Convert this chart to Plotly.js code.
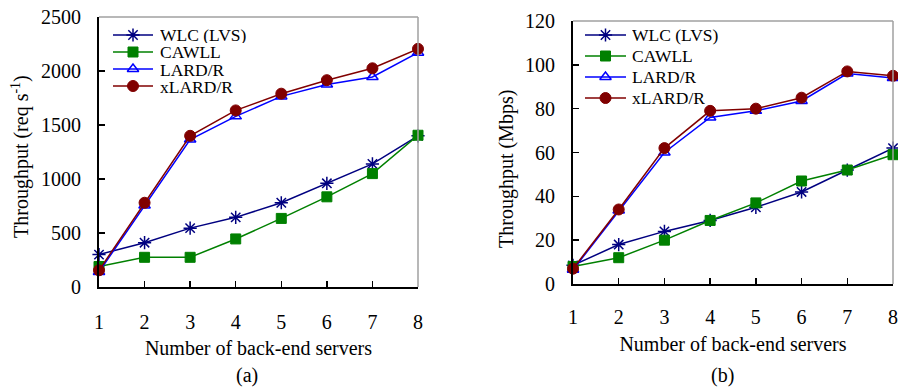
<!DOCTYPE html>
<html>
<head>
<meta charset="utf-8">
<script src="https://cdn.plot.ly/plotly-3.0.1.min.js"></script>
<style>html,body{margin:0;padding:0;background:#fff;}#chart{width:898px;height:387px;}</style>
</head>
<body>
<div id="chart"></div>
<script>
// ---- data ----
var servers = [1, 2, 3, 4, 5, 6, 7, 8];
var seriesNames = ["WLC (LVS)", "CAWLL", "LARD/R", "xLARD/R"];
var reqWLC   = [300, 410, 545, 645, 780, 960, 1140, 1400];
var reqCAWLL = [190, 275, 275, 445, 635, 835, 1050, 1405];
var reqLARD  = [140, 755, 1365, 1580, 1765, 1875, 1945, 2170];
var reqXLARD = [155, 780, 1400, 1635, 1790, 1915, 2025, 2205];
var mbpsWLC   = [8.5, 18, 24, 29, 35, 42, 52, 62];
var mbpsCAWLL = [8, 12, 20, 29, 37, 47, 52, 59];
var mbpsLARD  = [6.5, 33.5, 60, 76, 79, 83.5, 96, 94];
var mbpsXLARD = [7, 34, 62, 79, 80, 85, 97, 95];
var yTicksA = [0, 500, 1000, 1500, 2000, 2500];
var yTicksB = [0, 20, 40, 60, 80, 100, 120];

// ---- styles ----
var W = 898, H = 387;
var FONT = "Liberation Serif, Times New Roman, serif";
var styles = [
  {color: "#000080", marker: {symbol: "asterisk-open", size: 11, color: "#000080", line: {color: "#000080", width: 1.5}}},
  {color: "#008000", marker: {symbol: "square", size: 10, color: "#008000", line: {color: "#008000", width: 1}}},
  {color: "#0000ff", marker: {symbol: "triangle-up-open", size: 10, color: "#0000ff", line: {color: "#0000ff", width: 1.5}}},
  {color: "#800000", marker: {symbol: "circle", size: 11, color: "#800000", line: {color: "#800000", width: 1}}}
];
function px(x) { return x / W; }
function py(y) { return 1 - y / H; }

var traces = [];
function addSeries(vals, i, xa, ya) {
  traces.push({
    x: servers, y: vals, type: "scatter", mode: "lines+markers",
    name: seriesNames[i], xaxis: xa, yaxis: ya, showlegend: false, cliponaxis: false,
    line: {color: styles[i].color, width: 1.5},
    marker: styles[i].marker
  });
}
[reqWLC, reqCAWLL, reqLARD, reqXLARD].forEach(function (v, i) { addSeries(v, i, "x", "y"); });
[mbpsWLC, mbpsCAWLL, mbpsLARD, mbpsXLARD].forEach(function (v, i) { addSeries(v, i, "x2", "y2"); });

// ---- manual legends (pixel layout on an overlay axis) ----
var legends = [
  {x0: 113, x1: 153, tx: 159, rows: [35, 52, 69, 86], boxH: 17},
  {x0: 585, x1: 626, tx: 631, rows: [35, 56, 77, 98], boxH: 20}
];
var shapes = [];
var annotations = [];
legends.forEach(function (L) {
  L.rows.forEach(function (ry, i) {
    shapes.push({type: "line", xref: "paper", yref: "paper", x0: px(L.x0), x1: px(L.x1), y0: py(ry), y1: py(ry),
      line: {color: styles[i].color, width: 1.5}});
    traces.push({x: [(L.x0 + L.x1) / 2], y: [ry], type: "scatter", mode: "markers", xaxis: "x3", yaxis: "y3",
      showlegend: false, hoverinfo: "skip", cliponaxis: false, marker: styles[i].marker});
    annotations.push({xref: "paper", yref: "paper", x: px(L.tx), y: py(ry), xanchor: "left", yanchor: "middle",
      height: L.boxH, valign: "middle",
      text: seriesNames[i], showarrow: false, borderpad: 0, font: {family: FONT, size: 17.5, color: "#000"}});
  });
});

// frame: gray top/right borders
["", "2"].forEach(function (s) {
  var xr = "x" + s + " domain", yr = "y" + s + " domain";
  shapes.push({type: "line", xref: xr, yref: yr, x0: 0, x1: 1, y0: 1, y1: 1, line: {color: "#a0a0a0", width: 1.5}});
  shapes.push({type: "line", xref: xr, yref: yr, x0: 1, x1: 1, y0: 0, y1: 1, line: {color: "#a0a0a0", width: 1.5}});
});

// titles
annotations.push({xref: "paper", yref: "paper", x: px(20), y: py(157), textangle: -90, xanchor: "center", yanchor: "middle",
  text: "Throughput (req s<sup>-1</sup>)", showarrow: false, font: {family: FONT, size: 20, color: "#000"}});
annotations.push({xref: "paper", yref: "paper", x: px(507), y: py(169), textangle: -90, xanchor: "center", yanchor: "middle",
  text: "Throughput (Mbps)", showarrow: false, font: {family: FONT, size: 20, color: "#000"}});
annotations.push({xref: "paper", yref: "paper", x: px(247), y: py(375), xanchor: "center", yanchor: "middle",
  text: "(a)", showarrow: false, font: {family: FONT, size: 20, color: "#000"}});
annotations.push({xref: "paper", yref: "paper", x: px(722), y: py(375), xanchor: "center", yanchor: "middle",
  text: "(b)", showarrow: false, font: {family: FONT, size: 20, color: "#000"}});

function xAxis(dom, anchor, labelGap, titleGap) {
  return {domain: dom, anchor: anchor, range: [1, 8], tickvals: servers, ticks: "inside", ticklen: 6, tickwidth: 1.5,
    tickcolor: "#000", showline: true, linecolor: "#000", linewidth: 2, showgrid: false, zeroline: false,
    ticklabelstandoff: labelGap, tickfont: {family: FONT, size: 20, color: "#000"},
    title: {text: "Number of back-end servers", standoff: titleGap, font: {family: FONT, size: 20, color: "#000"}}};
}
function yAxis(dom, anchor, range, ticks) {
  return {domain: dom, anchor: anchor, range: range, tickvals: ticks, ticks: "inside", ticklen: 6, tickwidth: 1.5,
    tickcolor: "#000", showline: true, linecolor: "#000", linewidth: 2, showgrid: false, zeroline: false,
    ticklabelstandoff: 12, tickfont: {family: FONT, size: 20, color: "#000"}};
}

var layout = {
  width: W, height: H, margin: {l: 0, r: 0, t: 0, b: 0}, paper_bgcolor: "#fff", plot_bgcolor: "rgba(0,0,0,0)",
  showlegend: false,
  xaxis: xAxis([px(99), px(418)], "y", 16, 9),
  yaxis: yAxis([py(287), py(17)], "x", [0, 2500], yTicksA),
  xaxis2: xAxis([px(573), px(893)], "y2", 14, 10),
  yaxis2: yAxis([py(284), py(21)], "x2", [0, 120], yTicksB),
  xaxis3: {domain: [0, 1], range: [0, W], visible: false, fixedrange: true, anchor: "y3"},
  yaxis3: {domain: [0, 1], range: [H, 0], visible: false, fixedrange: true, anchor: "x3"},
  shapes: shapes, annotations: annotations
};
Plotly.newPlot("chart", traces, layout, {displayModeBar: false, staticPlot: true});
</script>
</body>
</html>
